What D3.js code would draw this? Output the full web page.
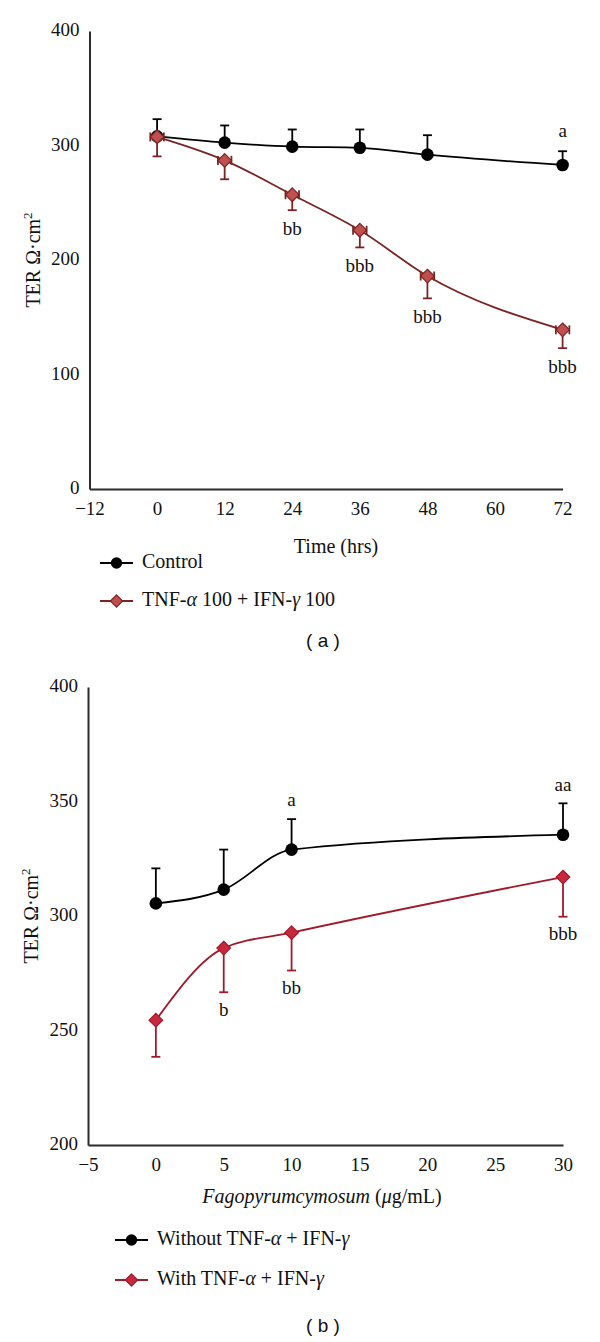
<!DOCTYPE html>
<html><head><meta charset="utf-8">
<script src="https://cdn.jsdelivr.net/npm/d3@7"></script>
<style>
body{margin:0;background:#fff;}
svg{display:block;}
</style></head>
<body>
<script>
// ---------- DATA ----------
// Panel (a)
const timeHours = [0, 12, 24, 36, 48, 72];
const controlTER = [308, 302.5, 299, 298, 292, 283];
const controlErr = [15, 15, 15, 16, 17, 12];
const tnfTER = [307.5, 287, 257, 226, 186, 139];
const tnfErr = [17, 16.5, 13.5, 15, 19.5, 16];
const tnfXErr = [1.2, 1.2, 1.2, 1.2, 1.2, 1.2];
const aXTicks = [-12, 0, 12, 24, 36, 48, 60, 72];
const aYTicks = [0, 100, 200, 300, 400];
const aControlSig = ["", "", "", "", "", "a"];
const aTnfSig = ["", "", "bb", "bbb", "bbb", "bbb"];
const aLegend = ["Control", "TNF-α 100 + IFN-γ 100"];

// Panel (b)
const dose = [0, 5, 10, 30];
const withoutTER = [305.5, 311.5, 329, 335.5];
const withoutErr = [15.3, 17.5, 13.3, 13.7];
const withTER = [254.5, 286, 292.7, 317];
const withErr = [16, 19.3, 16.5, 17.3];
const bXTicks = [-5, 0, 5, 10, 15, 20, 25, 30];
const bYTicks = [200, 250, 300, 350, 400];
const bWithoutSig = ["", "", "a", "aa"];
const bWithSig = ["", "b", "bb", "bbb"];
const bLegend = ["Without TNF-α + IFN-γ", "With TNF-α + IFN-γ"];

// ---------- DRAW ----------
const W = 600, H = 1342;
const svg = d3.select("body").append("svg").attr("width", W).attr("height", H);
const SERIF = "'Liberation Serif', 'Times New Roman', serif";

function richText(sel, str) {
  const parts = str.split(/([αγμ])/);
  parts.forEach(p => {
    if (!p) return;
    const t = sel.append("tspan").text(p);
    if (/[αγμ]/.test(p)) t.attr("font-style", "italic");
  });
}

function drawPanel(cfg) {
  const g = svg.append("g");
  const x = d3.scaleLinear().domain(cfg.xDomain).range(cfg.xRange);
  const y = d3.scaleLinear().domain(cfg.yDomain).range(cfg.yRange);

  const xAxis = d3.axisBottom(x).tickValues(cfg.xTicks).tickSize(0).tickPadding(12)
    .tickFormat(d => d < 0 ? "\u2212" + Math.abs(d) : d);
  const yAxis = d3.axisLeft(y).tickValues(cfg.yTicks).tickSize(0).tickPadding(10);
  const gx = g.append("g").attr("transform", `translate(0,${cfg.yRange[0]})`).call(xAxis);
  const gy = g.append("g").attr("transform", `translate(${cfg.xRange[0]},0)`).call(yAxis);
  [gx, gy].forEach(a => {
    a.select(".domain").attr("stroke", "#2b2b2b").attr("stroke-width", 2);
    a.selectAll("text").attr("font-family", SERIF).attr("font-size", 19).attr("fill", "#111");
  });
  gy.selectAll("text").attr("dy", "0.24em");
  gx.selectAll("text").attr("dy", "0.75em");

  const yl = g.append("text")
    .attr("transform", `translate(${cfg.yLabelX},${(cfg.yRange[0] + cfg.yRange[1]) / 2}) rotate(-90)`)
    .attr("text-anchor", "middle").attr("font-family", SERIF).attr("font-size", 20).attr("fill", "#111")
    .attr("dy", "0.35em");
  yl.append("tspan").text("TER Ω·cm");
  yl.append("tspan").text("2").attr("font-size", 13).attr("dy", "-0.6em");

  const xl = g.append("text").attr("x", cfg.xLabelX).attr("y", cfg.xLabelY)
    .attr("text-anchor", "middle").attr("font-family", SERIF).attr("font-size", 20).attr("fill", "#111")
    .attr("dominant-baseline", "middle");
  cfg.xLabel(xl);

  const line = d3.line().x(d => x(d.x)).y(d => y(d.y)).curve(d3.curveMonotoneX);

  cfg.series.forEach(s => {
    const pts = s.xs.map((xv, i) => ({x: xv, y: s.ys[i], e: s.err[i], xe: s.xerr ? s.xerr[i] : 0, sig: s.sig[i]}));
    g.append("path").datum(pts).attr("d", line).attr("fill", "none")
      .attr("stroke", s.lineColor).attr("stroke-width", 1.8);
    const dir = s.errDir;
    pts.forEach(p => {
      const y0 = y(p.y), y1 = y(p.y + dir * p.e);
      g.append("line").attr("x1", x(p.x)).attr("x2", x(p.x)).attr("y1", y0).attr("y2", y1)
        .attr("stroke", s.lineColor).attr("stroke-width", 1.8);
      g.append("line").attr("x1", x(p.x) - 4.5).attr("x2", x(p.x) + 4.5).attr("y1", y1).attr("y2", y1)
        .attr("stroke", s.lineColor).attr("stroke-width", 1.8);
      if (p.xe) {
        const xa = x(p.x - p.xe), xb = x(p.x + p.xe);
        g.append("line").attr("x1", xa).attr("x2", xb).attr("y1", y0).attr("y2", y0)
          .attr("stroke", s.lineColor).attr("stroke-width", 1.5);
        [xa, xb].forEach(xx => g.append("line").attr("x1", xx).attr("x2", xx)
          .attr("y1", y0 - 4.5).attr("y2", y0 + 4.5).attr("stroke", s.lineColor).attr("stroke-width", 1.8));
      }
      if (p.sig) {
        g.append("text").attr("x", x(p.x)).attr("y", y1 - dir * s.sigOffset)
          .attr("text-anchor", "middle").attr("dominant-baseline", "middle")
          .attr("font-family", SERIF).attr("font-size", 19).attr("fill", "#111").text(p.sig);
      }
    });
    pts.forEach(p => drawMarker(g, s, x(p.x), y(p.y)));
  });

  cfg.series.forEach((s, i) => {
    const ly = cfg.legendY[i];
    g.append("line").attr("x1", cfg.legendX).attr("x2", cfg.legendX + 33).attr("y1", ly).attr("y2", ly)
      .attr("stroke", s.lineColor).attr("stroke-width", 1.8);
    drawMarker(g, s, cfg.legendX + 16.5, ly, 0.9);
    const t = g.append("text").attr("x", cfg.legendX + 42).attr("y", ly).attr("dominant-baseline", "middle")
      .attr("font-family", SERIF).attr("font-size", 20).attr("fill", "#111");
    richText(t, s.name);
  });

  g.append("text").attr("x", cfg.tagX).attr("y", cfg.tagY).attr("text-anchor", "middle")
    .attr("dominant-baseline", "middle").attr("font-family", "'Liberation Sans', Arial, sans-serif")
    .attr("font-size", 19).attr("fill", "#111").attr("xml:space", "preserve").text(cfg.tag);
}

function drawMarker(g, s, cx, cy, k = 1) {
  if (s.marker === "circle") {
    g.append("circle").attr("cx", cx).attr("cy", cy).attr("r", 6.3 * k).attr("fill", "#000");
  } else {
    const r = 6.8 * k;
    g.append("path").attr("d", `M${cx},${cy - r}L${cx + r},${cy}L${cx},${cy + r}L${cx - r},${cy}Z`)
      .attr("fill", s.fill).attr("stroke", s.stroke).attr("stroke-width", 1.2);
  }
}

drawPanel({
  xDomain: [-12, 72], xRange: [89.5, 562.6],
  yDomain: [0, 400], yRange: [489, 31],
  xTicks: aXTicks, yTicks: aYTicks,
  yLabelX: 33, xLabelX: 336, xLabelY: 548,
  xLabel: t => t.text("Time (hrs)"),
  legendX: 100, legendY: [563, 601],
  tag: "( a )", tagX: 323, tagY: 642,
  series: [
    {name: aLegend[0], xs: timeHours, ys: controlTER, err: controlErr, sig: aControlSig, errDir: 1,
     marker: "circle", lineColor: "#000", sigOffset: 19},
    {name: aLegend[1], xs: timeHours, ys: tnfTER, err: tnfErr, xerr: tnfXErr, sig: aTnfSig, errDir: -1,
     marker: "diamond", lineColor: "#7a2424", fill: "#c0504d", stroke: "#7a2424", sigOffset: 20}
  ]
});

drawPanel({
  xDomain: [-5, 30], xRange: [88, 563],
  yDomain: [200, 400], yRange: [1145, 687],
  xTicks: bXTicks, yTicks: bYTicks,
  yLabelX: 31, xLabelX: 322, xLabelY: 1198,
  xLabel: t => {
    t.append("tspan").attr("font-style", "italic").text("Fagopyrumcymosum");
    t.append("tspan").text(" (");
    t.append("tspan").attr("font-style", "italic").text("μ");
    t.append("tspan").text("g/mL)");
  },
  legendX: 115, legendY: [1240, 1280],
  tag: "( b )", tagX: 323, tagY: 1327,
  series: [
    {name: bLegend[0], xs: dose, ys: withoutTER, err: withoutErr, sig: bWithoutSig, errDir: 1,
     marker: "circle", lineColor: "#000", sigOffset: 17},
    {name: bLegend[1], xs: dose, ys: withTER, err: withErr, sig: bWithSig, errDir: -1,
     marker: "diamond", lineColor: "#9e1b2c", fill: "#c8283c", stroke: "#9e1b2c", sigOffset: 19}
  ]
});
</script>
</body></html>
